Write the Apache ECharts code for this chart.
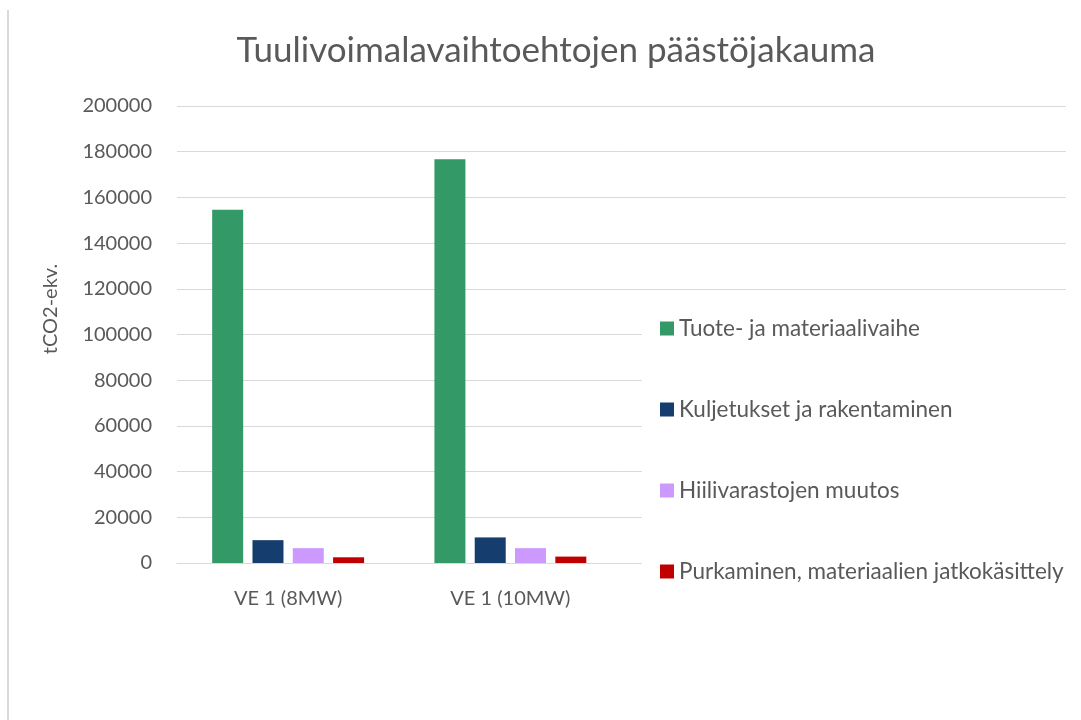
<!DOCTYPE html>
<html>
<head>
<meta charset="utf-8">
<script src="https://cdn.jsdelivr.net/npm/echarts@6/dist/echarts.min.js"></script>
<style>
  html, body { margin: 0; padding: 0; background: #fff; }
  #chart { width: 1081px; height: 720px; }
</style>
</head>
<body>
<div id="chart"></div>
<script>
// Two turbine alternatives; the two trailing blank slots keep the plot wide behind the legend
const categories = ['VE 1 (8MW)', 'VE 1 (10MW)', '', ''];
const seriesNames = [
  'Tuote- ja materiaalivaihe',
  'Kuljetukset ja rakentaminen',
  'Hiilivarastojen muutos',
  'Purkaminen, materiaalien jatkokäsittely'
];
const productPhase = [154600, 176700];
const transportBuild = [10000, 11200];
const carbonStockChange = [6500, 6500];
const decommissioning = [2500, 2800];
const yTicks = [0, 20000, 40000, 60000, 80000, 100000, 120000, 140000, 160000, 180000, 200000];
const yAxisTitle = 'tCO2-ekv.';

const colors = ['#339966', '#153E6E', '#CC99FF', '#C00000'];
const values = [productPhase, transportBuild, carbonStockChange, decommissioning];
const textColor = '#595959';
const font = 'Lato, "Open Sans", sans-serif';

const chart = echarts.init(document.getElementById('chart'));
chart.setOption({
  backgroundColor: '#ffffff',
  animation: false,
  title: {
    text: 'Tuulivoimalavaihtoehtojen päästöjakauma',
    left: 551,
    textAlign: 'center',
    top: 28,
    textStyle: { color: textColor, fontFamily: font, fontSize: 35, fontWeight: 'normal' }
  },
  grid: { left: 177, right: 15, top: 106, bottom: 157 },
  legend: {
    orient: 'vertical',
    left: 660 - 18,
    top: 298,
    padding: [19, 15, 30, 18],
    backgroundColor: '#ffffff',
    itemWidth: 14,
    itemHeight: 14,
    itemGap: 58,
    icon: 'rect',
    textStyle: { color: textColor, fontFamily: font, fontSize: 22.5, lineHeight: 20 },
    data: seriesNames
  },
  xAxis: {
    type: 'category',
    data: categories,
    axisLine: { lineStyle: { color: '#D9D9D9', width: 1 } },
    axisTick: { show: false },
    axisLabel: { color: textColor, fontFamily: font, fontSize: 20, margin: 26 }
  },
  yAxis: {
    type: 'value',
    min: yTicks[0],
    max: yTicks[yTicks.length - 1],
    interval: yTicks[1] - yTicks[0],
    axisLine: { show: false },
    axisTick: { show: false },
    splitLine: { lineStyle: { color: '#D9D9D9', width: 1 } },
    axisLabel: {
      color: textColor, fontFamily: font, fontSize: 20, margin: 25,
      formatter: (v) => String(v)
    }
  },
  graphic: [
    {
      // thin frame edge on the left of the chart area
      type: 'rect',
      left: 7,
      top: 10,
      shape: { width: 2, height: 710 },
      style: { fill: '#D9D9D9' },
      silent: true
    },
    {
      type: 'text',
      x: 51,
      y: 309,
      rotation: Math.PI / 2,
      style: {
        text: yAxisTitle,
        fill: textColor,
        font: '20px ' + font,
        textAlign: 'center',
        textVerticalAlign: 'middle'
      },
      silent: true
    }
  ],
  series: seriesNames.map((name, i) => ({
    name: name,
    type: 'bar',
    data: values[i],
    barWidth: 31,
    barGap: '30%',
    itemStyle: { color: colors[i] }
  }))
});
</script>
</body>
</html>
